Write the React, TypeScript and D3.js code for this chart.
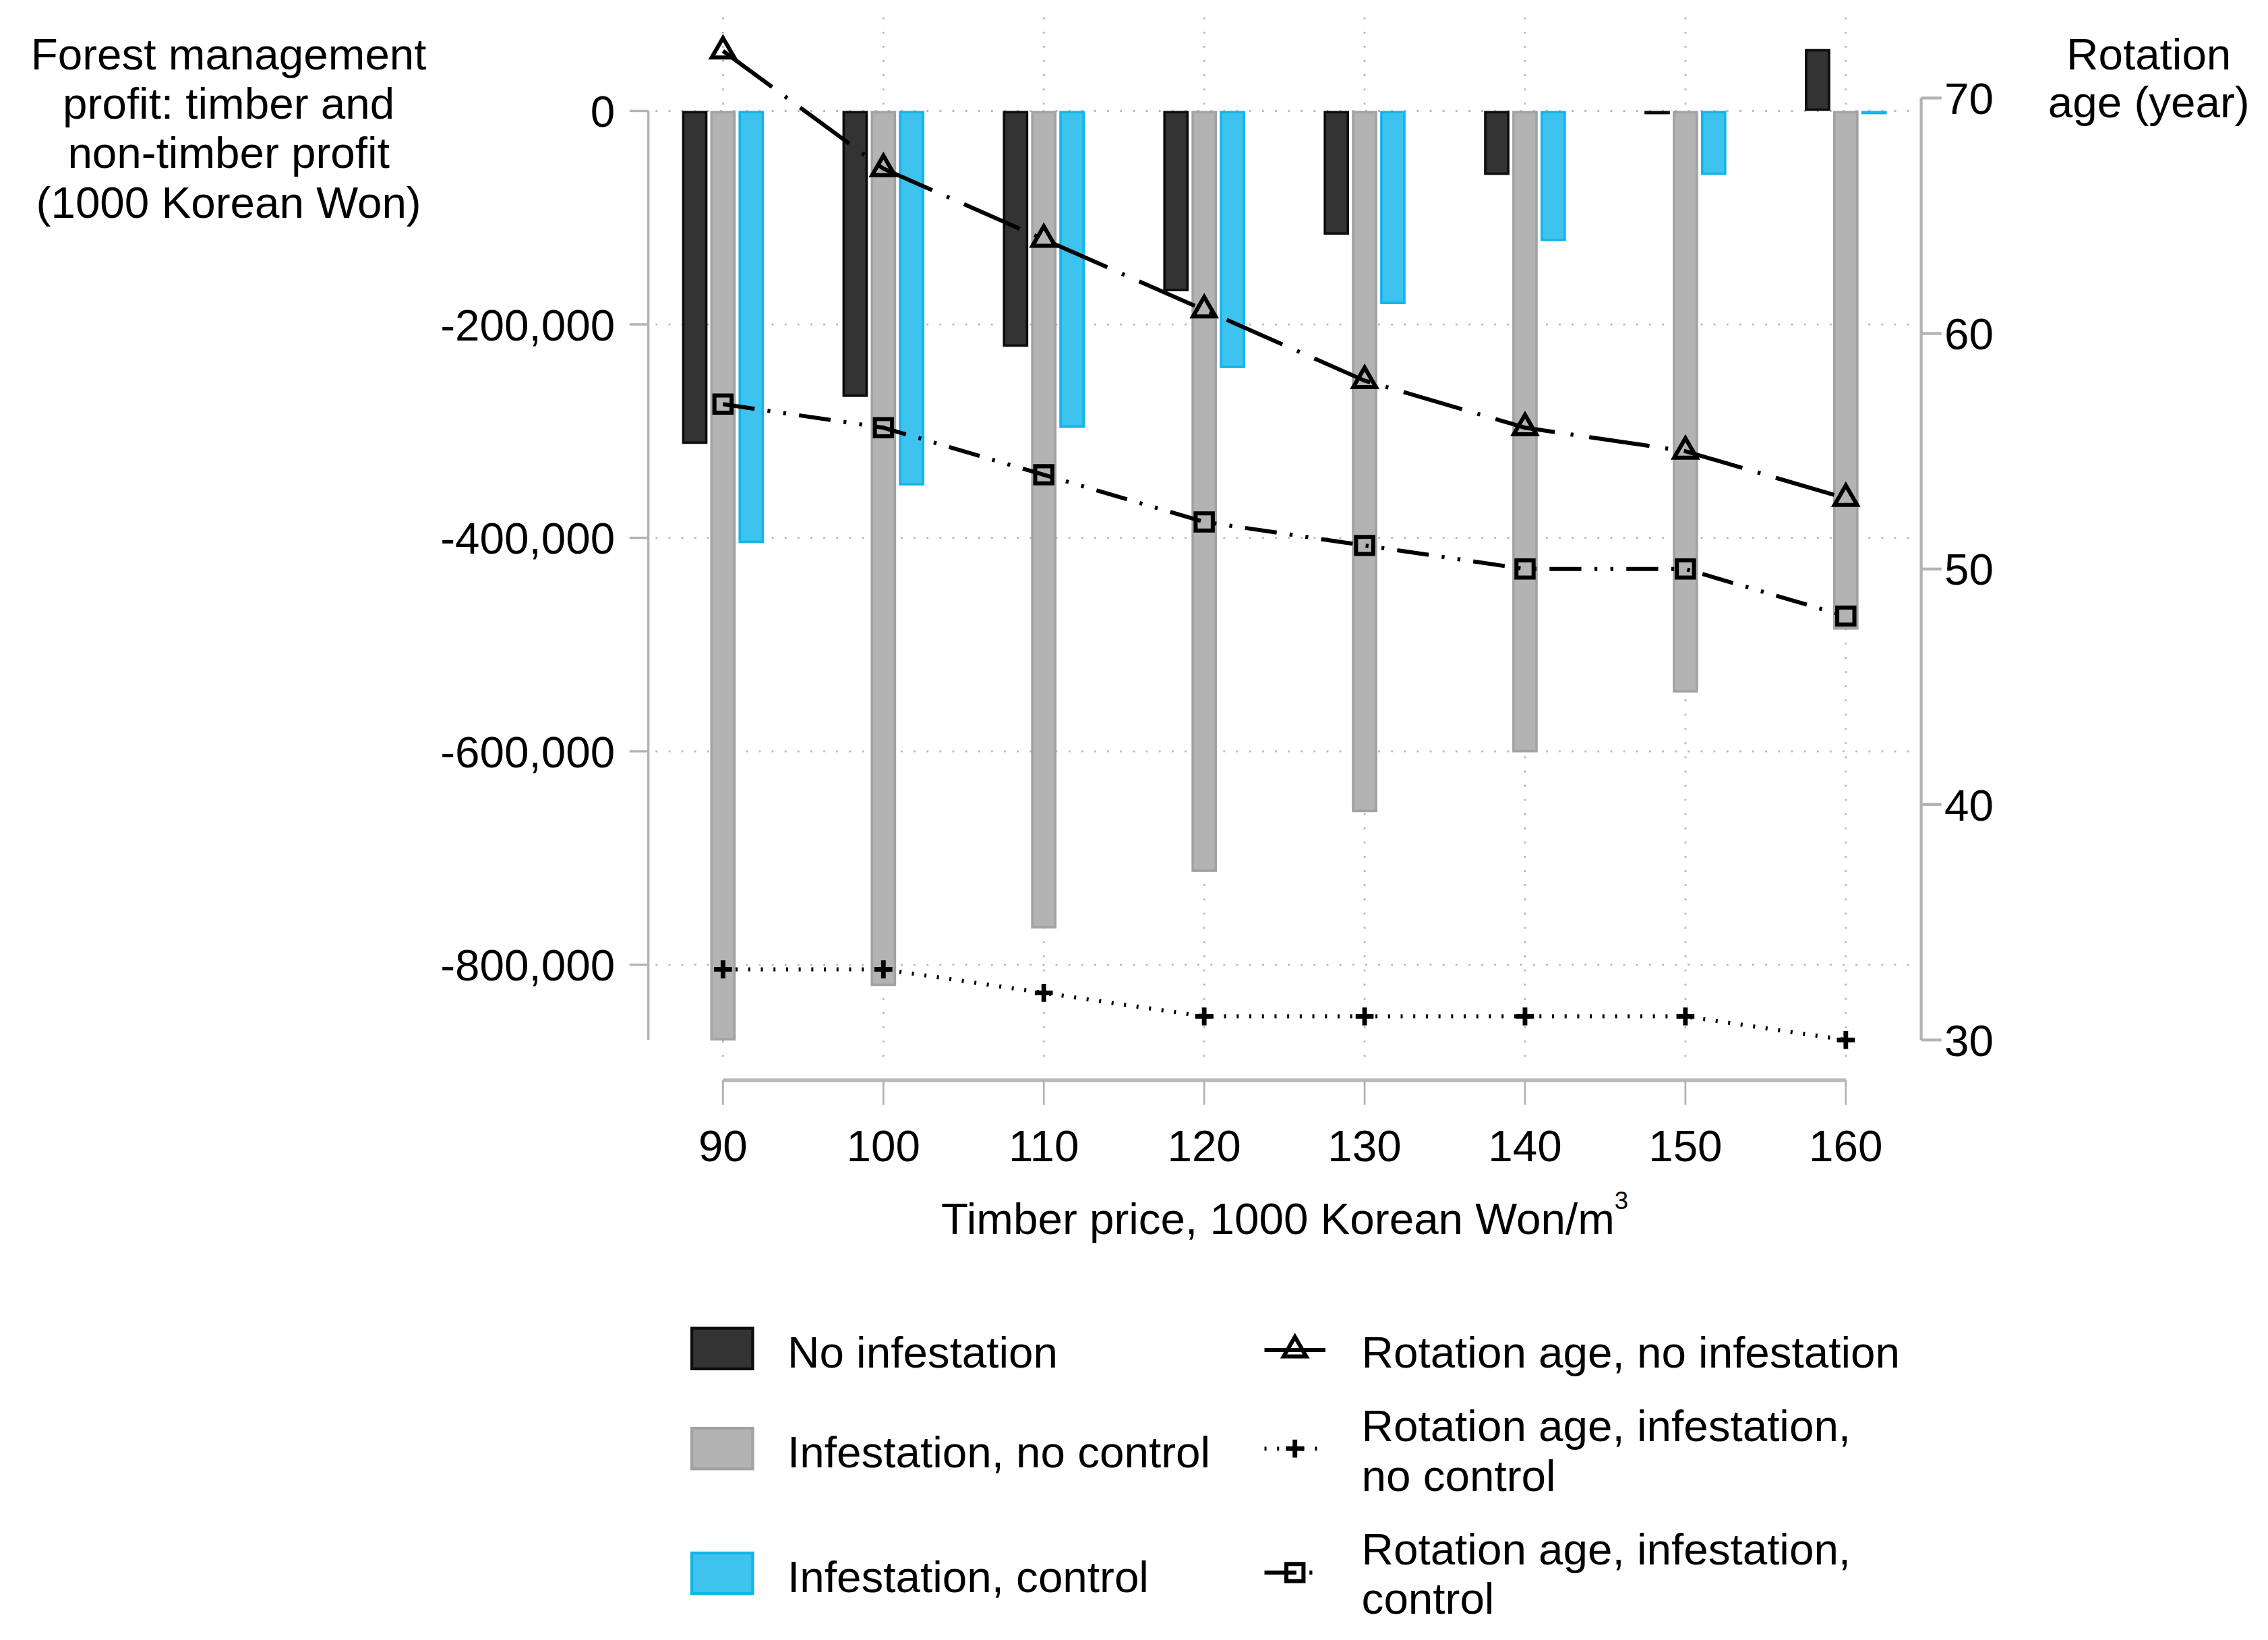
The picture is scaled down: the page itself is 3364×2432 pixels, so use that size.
import * as d3 from 'd3'

const prices = [90, 100, 110, 120, 130, 140, 150, 160]

// forest management profit, 1000 KRW
const profitNoInfestation = [-312000, -268000, -221000, -169000, -116000, -60000, -3000, 58000]
const profitNoControl = [-871000, -820000, -766000, -713000, -657000, -601000, -545000, -486000]
const profitControl = [-405000, -351000, -297000, -241000, -181000, -122000, -60000, -2000]

// rotation age, years
const rotationNoInfestation = [72, 67, 64, 61, 58, 56, 55, 53]
const rotationNoControl = [33, 33, 32, 31, 31, 31, 31, 30]
const rotationControl = [57, 56, 54, 52, 51, 50, 50, 48]

const leftTicks = [0, -200000, -400000, -600000, -800000]
const rightTicks = [70, 60, 50, 40, 30]

const W = 1564
const H = 1131
const FONT = '"Liberation Sans", Arial, Helvetica, sans-serif'
const FS = 30.5

const barSeries = [
  { key: 'noInf', label: 'No infestation', values: profitNoInfestation, fill: '#333333', stroke: '#0d0d0d' },
  { key: 'noCtl', label: 'Infestation, no control', values: profitNoControl, fill: '#b3b3b3', stroke: '#a2a2a2' },
  { key: 'ctl', label: 'Infestation, control', values: profitControl, fill: '#3ec3ef', stroke: '#12b5ea' },
]

const lineSeries = [
  { key: 'tri', label: ['Rotation age, no infestation'], values: rotationNoInfestation, dash: '42 11 2 11', width: 2.8, marker: 'triangle' },
  { key: 'plus', label: ['Rotation age, infestation,', 'no control'], values: rotationNoControl, dash: '1.4 7.3', width: 2.8, marker: 'plus' },
  { key: 'sq', label: ['Rotation age, infestation,', 'control'], values: rotationControl, dash: '22 9 2 9 2 9', width: 2.8, marker: 'square' },
]

const fmt = d3
  .formatLocale({ decimal: '.', thousands: ',', grouping: [3], currency: ['', ''], minus: '-' })
  .format(',')

const x = d3.scalePoint<number>().domain(prices).range([498.5, 1273])
const inner = d3
  .scaleBand<string>()
  .domain(barSeries.map((s) => s.key))
  .range([-28.25, 28.25])
  .paddingInner(0.1)
const yLeft = d3.scaleLinear().domain([0, -800000]).range([76.5, 665.3])
const yRight = d3.scaleLinear().domain([70, 30]).range([67.6, 717.2])

const triangle = d3.symbol().type(d3.symbolTriangle).size(105)()
const square = d3.symbol().type(d3.symbolSquare).size(140)()

function Marker({ kind, cx, cy }: { kind: string; cx: number; cy: number }) {
  if (kind === 'plus') {
    const r = 6.2
    return (
      <g transform={`translate(${cx},${cy})`} stroke="#000" strokeWidth={3.2}>
        <line x1={-r} x2={r} y1={0} y2={0} />
        <line x1={0} x2={0} y1={-r} y2={r} />
      </g>
    )
  }
  return (
    <path
      d={kind === 'triangle' ? triangle || '' : square || ''}
      transform={`translate(${cx},${cy})`}
      fill="none"
      stroke="#000"
      strokeWidth={2.8}
    />
  )
}

function Chart() {
  const plotBottom = yRight(30)
  const gridLeft = 452
  const gridRight = 1318
  const axisLeftX = 447
  const axisRightX = 1325
  const xAxisY = 745

  const line = (vals: number[]) =>
    d3
      .line<number>()
      .x((_, i) => x(prices[i]) || 0)
      .y((v) => yRight(v))(vals) || ''

  return (
    <svg
      width={3364}
      height={2432}
      viewBox={`0 0 ${W} ${H}`}
      style={{ position: 'absolute', left: 0, top: 0, background: '#fff' }}
      fontFamily={FONT}
      fontSize={FS}
    >
      <rect width={W} height={H} fill="#fff" />

      {/* grid */}
      <g stroke="#b8b8b8" strokeWidth={1.3} fill="none">
        {leftTicks.map((t) => (
          <line key={t} x1={gridLeft} x2={gridRight} y1={yLeft(t)} y2={yLeft(t)} strokeDasharray="1.3 7.6" />
        ))}
        {prices.map((p) => (
          <line key={p} x1={x(p)} x2={x(p)} y1={12} y2={735} strokeDasharray="1.3 8.5" />
        ))}
      </g>

      {/* bars */}
      {barSeries.map((s) => (
        <g key={s.key}>
          {s.values.map((v, i) => {
            const sw = 1.7
            const bx = (x(prices[i]) || 0) + (inner(s.key) || 0)
            const y0 = yLeft(0)
            const y1 = yLeft(v)
            return (
              <rect
                key={i}
                x={bx + sw / 2}
                width={inner.bandwidth() - sw}
                y={Math.min(y0, y1) + sw / 2}
                height={Math.max(0.6, Math.abs(y1 - y0) - sw)}
                fill={s.fill}
                stroke={s.stroke}
                strokeWidth={sw}
              />
            )
          })}
        </g>
      ))}

      {/* rotation lines */}
      {lineSeries.map((s) => (
        <g key={s.key}>
          <path d={line(s.values)} fill="none" stroke="#000" strokeWidth={s.width} strokeDasharray={s.dash} />
          {s.values.map((v, i) => (
            <Marker key={i} kind={s.marker} cx={x(prices[i]) || 0} cy={yRight(v)} />
          ))}
        </g>
      ))}

      {/* left axis */}
      <g>
        <line x1={axisLeftX} x2={axisLeftX} y1={yLeft(0)} y2={plotBottom} stroke="#b3b3b3" strokeWidth={1.6} />
        {leftTicks.map((t) => (
          <g key={t}>
            <line x1={axisLeftX - 13} x2={axisLeftX} y1={yLeft(t)} y2={yLeft(t)} stroke="#b3b3b3" strokeWidth={1.6} />
            <text x={424} y={yLeft(t) + 11} textAnchor="end" fill="#000">
              {fmt(t)}
            </text>
          </g>
        ))}
      </g>

      {/* right axis */}
      <g>
        <line x1={axisRightX} x2={axisRightX} y1={yRight(70)} y2={yRight(30)} stroke="#b3b3b3" strokeWidth={2} />
        {rightTicks.map((t) => (
          <g key={t}>
            <line x1={axisRightX} x2={axisRightX + 14} y1={yRight(t)} y2={yRight(t)} stroke="#b3b3b3" strokeWidth={2} />
            <text x={1341} y={yRight(t) + 11} fill="#000">
              {t}
            </text>
          </g>
        ))}
      </g>

      {/* x axis */}
      <g>
        <line x1={x(90)} x2={x(160)} y1={xAxisY} y2={xAxisY} stroke="#b8b8b8" strokeWidth={2.6} />
        {prices.map((p) => (
          <g key={p}>
            <line x1={x(p)} x2={x(p)} y1={xAxisY} y2={xAxisY + 17} stroke="#b3b3b3" strokeWidth={1.3} />
            <text x={x(p)} y={801} textAnchor="middle" fill="#000">
              {p}
            </text>
          </g>
        ))}
        <text x={886} y={851} textAnchor="middle" fill="#000">
          Timber price, 1000 Korean Won/m
          <tspan fontSize={17} dy={-17}>
            3
          </tspan>
        </text>
      </g>

      {/* axis titles */}
      <g textAnchor="middle" fill="#000">
        {['Forest management', 'profit: timber and', 'non-timber profit', '(1000 Korean Won)'].map((t, i) => (
          <text key={t} x={157.5} y={48 + i * 34}>
            {t}
          </text>
        ))}
        {['Rotation', 'age (year)'].map((t, i) => (
          <text key={t} x={1482} y={48 + i * 33}>
            {t}
          </text>
        ))}
      </g>

      {/* legend */}
      <g>
        {barSeries.map((s, i) => {
          const top = [916, 985, 1071][i]
          return (
            <g key={s.key}>
              <rect x={477} y={top} width={42} height={28} fill={s.fill} stroke={s.stroke} strokeWidth={2} />
              <text x={543} y={top + 27}>
                {s.label}
              </text>
            </g>
          )
        })}
        {lineSeries.map((s, i) => {
          const cy = [931, 999, 1084.5][i]
          const base = [943, 994, 1079][i]
          return (
            <g key={s.key}>
              <line x1={872} x2={914} y1={cy} y2={cy} stroke="#000" strokeWidth={s.width} strokeDasharray={s.dash} />
              <Marker kind={s.marker} cx={893} cy={cy} />
              {s.label.map((l, j) => (
                <text key={l} x={939} y={base + j * 34}>
                  {l}
                </text>
              ))}
            </g>
          )
        })}
      </g>
    </svg>
  )
}

export default function App() {
  return <Chart />
}
